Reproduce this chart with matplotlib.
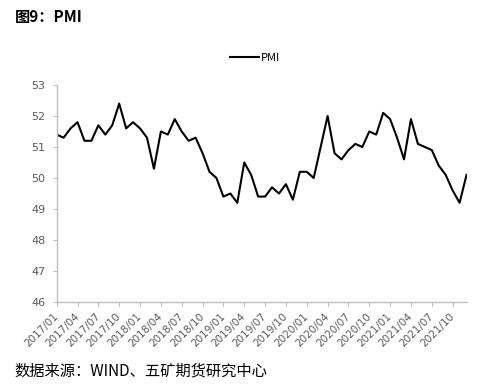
import numpy as np
import matplotlib.pyplot as plt

plt.rcParams['font.family'] = ['Noto Sans CJK SC', 'DejaVu Sans']

# monthly PMI readings as shown on the chart (one blank month in early 2020)
labels = []
for year in range(2017, 2022):
    for month in range(1, 13):
        labels.append('%d/%02d' % (year, month))

pmi = [51.4, 51.3, 51.6, 51.8, 51.2, 51.2, 51.7, 51.4, 51.7, 52.4, 51.6, 51.8,
       51.6, 51.3, 50.3, 51.5, 51.4, 51.9, 51.5, 51.2, 51.3, 50.8, 50.2, 50.0,
       49.4, 49.5, 49.2, 50.5, 50.1, 49.4, 49.4, 49.7, 49.5, 49.8, 49.3, 50.2,
       50.2, 50.0, np.nan, 52.0, 50.8, 50.6, 50.9, 51.1, 51.0, 51.5, 51.4, 52.1,
       51.9, 51.3, 50.6, 51.9, 51.1, 51.0, 50.9, 50.4, 50.1, 49.6, 49.2, 50.1]

x = np.arange(len(pmi))
y = np.array(pmi)
ok = ~np.isnan(y)  # connect the line across the gap

fig = plt.figure(figsize=(4.95, 3.86), dpi=100)
ax = fig.add_axes([0.1145, 0.2176, 0.828, 0.5622])

line, = ax.plot(x[ok], y[ok], color='black', lw=1.5, label='PMI')

ax.set_xlim(0, len(pmi) - 1)
ax.set_ylim(46, 53)
ax.set_yticks(range(46, 54))

ax.set_xticks(x[::3])
ax.set_xticklabels(labels[::3], rotation=45, ha='right', va='center',
                   rotation_mode='anchor', fontsize=7.5, color='#595959',
                   family='DejaVu Sans')

for s in ['top', 'right']:
    ax.spines[s].set_visible(False)
for s in ['left', 'bottom']:
    ax.spines[s].set_color('#bfbfbf')
    ax.spines[s].set_linewidth(1)

ax.tick_params(axis='y', direction='out', length=3, width=0.8, color='#bfbfbf',
               labelsize=8, labelcolor='#595959', pad=5)
ax.tick_params(axis='x', direction='out', length=3, width=0.8, color='#bfbfbf', pad=6)
for t in ax.get_yticklabels():
    t.set_family('DejaVu Sans')

fig.legend(handles=[line], loc='center', bbox_to_anchor=(0.515, 0.85),
           frameon=False, fontsize=8, handlelength=2.6, handletextpad=0.2)

fig.text(0.03, 0.955, '图9：PMI', fontsize=11, fontweight='bold', va='center')
fig.text(0.03, 0.04, '数据来源：WIND、五矿期货研究中心', fontsize=11, va='center')

fig.savefig('out.png', dpi=100)
